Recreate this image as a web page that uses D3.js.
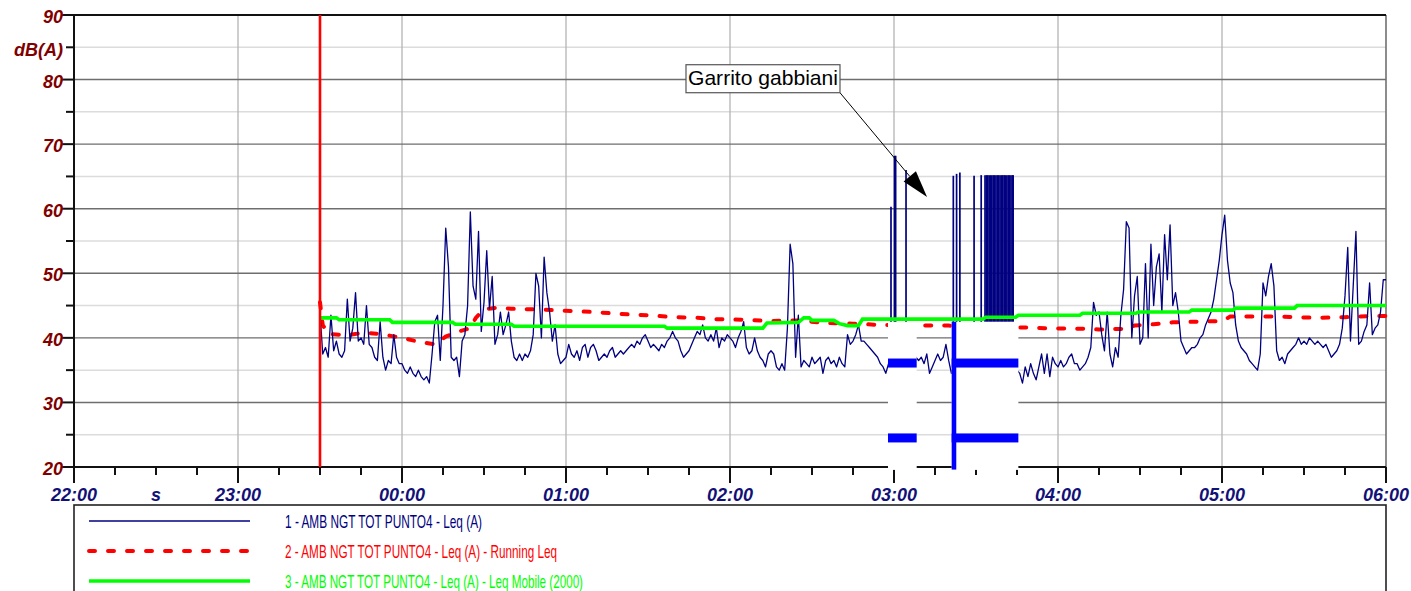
<!DOCTYPE html>
<html><head><meta charset="utf-8">
<script src="https://cdn.jsdelivr.net/npm/d3@7"></script>
<style>html,body{margin:0;padding:0;background:#fff;}svg{display:block;}</style>
</head><body>
<svg id="chart" width="1411" height="591"></svg>
<script>
// ---------- DATA (time = minutes after 22:00) ----------
const startMinute = 90; // 23:30, first sample of series 1, one value per minute
const leqValues = [
 44,37.5,38.5,37,43.5,38,39.5,37.5,37,38,
 46,39.5,41.5,47,39.5,40,39,45,39,38.5,
 37,36.5,42.5,37,35,36.5,36,40.5,37,36,
 36,35,34.5,35.5,34.5,34,35,34,33.5,34,
 33,37.5,42.5,43.5,36.5,45,57,51,37,36.5,
 37,34,39.5,40.5,45,59.5,48,46,56.5,41,
 45.5,53.5,44.5,49.5,39,40.5,44,40.5,42,44,
 39.5,37,36.5,37.5,36.5,37.5,37,38,40.5,50,
 48,40,52.5,47,44,39.5,42,37.5,36,36.5,
 37,39,37.5,37,38,36.5,38.5,39,37,38.5,
 39,38,36.5,37,37.5,37,38,38.5,37,37.5,
 38,37.5,38,38.5,39,38.5,39.5,39,40,40.5,
 39.5,38.5,39,38.5,38,39,38.5,39.5,40,41,
 40,39.5,38,37,37.5,38,39,40,41,40.5,
 42,40,39.5,40.5,39.5,41.5,38.5,40,39.5,40.5,
 40,39.5,38.5,40,41,42.5,38.5,37.5,38,40,
 38,37,36.5,35.5,37.5,38,37.5,35.5,35,36,
 35,41.5,54.5,51.5,37,43.5,35.5,36.5,36,35.5,
 37,36,36.5,37,34.5,36.5,37,36,36.5,35.5,
 37,36,35.5,40.5,39,39.5,40.5,42,39.5,39.5,
 39,38.5,38,37.5,37,36,35.5,34.5,36,37,
 37,37,38,37,37,37,36,37,37,36.5,
 37,36,37.5,34.5,35.5,36.5,37.5,36.5,37,39,
 36.5,34.5,36,37,36,37,36,37,36,37,
 36,37,36,37,36,37,36,37,36,37,
 36,37,36,37,36,35,34.5,33,35.5,34,
 36,34.5,33.5,35.5,37.5,34.5,37.5,34,37,36,
 35.5,36.5,35.5,36,37,37.5,36,36,35,35.5,
 36,37,38.5,45.5,43.5,44,40.5,38,44,37.5,
 35.5,38.5,37,43.5,47.5,58,57,40,46.5,49.5,
 39,40,51.5,40,54.5,45,51,53,44,56,
 49,57.5,45,47,44,39.5,38.5,37.5,38,38.5,
 38.5,39,40,40.5,42,43,44,46,49,52,
 56,59,52,48.5,47,42,39.5,38.5,38,37.5,
 36.5,36,35.5,35,37.5,48.5,46.5,49.5,51.5,48,
 38,36.5,37,36,37.5,38,38.5,39,40,39,
 39.5,39,40,39.5,39,39.5,39,38.5,39,38,
 37,37.5,38,39,41.5,46.5,54,39.5,48,56.5,
 39,39.5,41,42,48.5,40.5,41.5,42,44,49,49
];
// gull cries inside the masked periods
const spikeTimes = [298.9,300.2,300.6,304.4,321.7,322.9,324.1,329.3,331.9,
  333.3,333.8,334.3,334.8,335.3,335.8,336.3,336.8,337.3,337.8,338.3,338.8,
  339.3,339.8,340.3,340.8,341.3,341.8,342.3,342.8,343.3,343.6];
const spikePeaks = [60.3,68.2,68.2,66.0,65.1,65.4,65.6,65.1,65.2,
  65.2,65.2,65.2,65.2,65.2,65.2,65.2,65.2,65.2,65.2,65.2,65.2,
  65.2,65.2,65.2,65.2,65.2,65.2,65.2,65.2,65.2,65.2];
// Running Leq
const runningTimes  = [90,91,93,100,106,112,120,126,132,136,140,145,147,150,155,160,170,180,190,200,210,220,228,235,245,255,265,275,285,295,310,320,345,350,355,370,375,384,388,395,402,410,420,423,440,455,465,470,480];
const runningValues = [45.5,42,40.6,40.4,40.8,40.6,40,39.4,39,40.2,40.9,41.5,43.1,44.4,44.7,44.5,44.4,44.2,44,43.7,43.5,43.2,43.1,42.9,42.8,42.6,42.7,42.3,42.2,42,41.9,41.9,41.6,41.6,41.5,41.4,41.3,41.4,41.9,42.1,42.4,42.5,42.6,43.3,43.3,43.1,43.2,43.3,43.4];
// Leq Mobile (2000)
const mobileTimes  = [90,96,97,115.5,116.5,138.5,139.5,160,161,216,217,252,253.5,265,267,269,270,278,280,283,287,288.5,332.5,333.5,344.5,345.5,368,369,388.5,389.5,408,409,424,425,446.5,447.5,480];
const mobileValues = [43.1,43.1,42.8,42.8,42.4,42.4,42.1,42.1,41.8,41.8,41.5,41.5,42.3,42.4,43.1,43.1,42.7,42.7,42.2,41.9,41.9,42.9,42.9,43.2,43.2,43.5,43.5,43.8,43.8,44,44,44.3,44.3,44.6,44.6,45,45];
// excluded periods and their markers
const maskedPeriods = [[297.8,308.3],[321.1,345.5]];
const maskTop = 42.5;
const markerLevels = [36.1, 24.5];
const markerBarTime = 321.1;
// axes
const hourTicks = [0,60,120,180,240,300,360,420,480];
const xTickLabels = ["22:00","23:00","00:00","01:00","02:00","03:00","04:00","05:00","06:00"];
const quarterTicks = [15,30,45,75,90,105,135,150,165,195,210,225,255,270,285,315,330,345,375,390,405,435,450,465];
const xUnitLabel = "s", xUnitAt = 30;
const yMajorTicks = [20,30,40,50,60,70,80,90];
const yMinorTicks = [25,35,45,55,65,75,85];
const yUnitLabel = "dB(A)", yUnitAt = 85;
const legendLabels = ["1 - AMB NGT TOT PUNTO4 - Leq (A)",
  "2 - AMB NGT TOT PUNTO4 - Leq (A) - Running Leq",
  "3 - AMB NGT TOT PUNTO4 - Leq (A) - Leq Mobile (2000)"];
const annotationText = "Garrito gabbiani";
const annotationTarget = [312.1, 61.8];
const annotationBox = [223.9, 82.3];

// ---------- DRAWING ----------
const FONT = "'Liberation Sans', Arial, sans-serif";
const svg = d3.select("#chart");
const x = d3.scaleLinear().domain([0, 480]).range([74, 1386]);
const y = d3.scaleLinear().domain([20, 90]).range([467, 15]);
const C_LEQ = "#000080", C_RUN = "#ff0000", C_MOB = "#00ff00";

// grid
const grid = svg.append("g");
grid.append("g").selectAll("line").data(yMinorTicks).join("line")
  .attr("x1", x(0)).attr("x2", x(480)).attr("y1", d => y(d)).attr("y2", d => y(d))
  .attr("stroke", "#dcdcdc").attr("stroke-width", 1.5);
grid.append("g").selectAll("line").data(hourTicks.slice(1, -1)).join("line")
  .attr("x1", d => x(d)).attr("x2", d => x(d)).attr("y1", y(90)).attr("y2", y(20))
  .attr("stroke", "#b4b4b4").attr("stroke-width", 1.3);
grid.append("g").selectAll("line").data(yMajorTicks.slice(1, -1)).join("line")
  .attr("x1", x(0)).attr("x2", x(480)).attr("y1", d => y(d)).attr("y2", d => y(d))
  .attr("stroke", "#6e6e6e").attr("stroke-width", 1.4);
svg.append("line").attr("x1", x(480)).attr("x2", x(480)).attr("y1", y(90)).attr("y2", y(20))
  .attr("stroke", "#707070").attr("stroke-width", 1.6);

// running Leq (red dashed)
const runData = runningTimes.map((t, i) => [t, runningValues[i]]);
svg.append("path").datum(runData)
  .attr("d", d3.line().x(d => x(d[0])).y(d => y(d[1])))
  .attr("fill", "none").attr("stroke", C_RUN).attr("stroke-width", 4)
  .attr("stroke-dasharray", "6,13").attr("stroke-linecap", "round");

// series 1
svg.append("path").datum(leqValues)
  .attr("d", d3.line().x((d, i) => x(startMinute + i)).y(d => y(d)))
  .attr("fill", "none").attr("stroke", C_LEQ).attr("stroke-width", 1.3).attr("stroke-linejoin", "round");
svg.append("g").selectAll("line").data(spikeTimes).join("line")
  .attr("x1", d => x(d)).attr("x2", d => x(d))
  .attr("y1", y(38)).attr("y2", (d, i) => y(spikePeaks[i]))
  .attr("stroke", C_LEQ).attr("stroke-width", 1.7);

// axes lines & ticks
const axes = svg.append("g").attr("stroke", "#111").attr("stroke-width", 2);
axes.append("line").attr("x1", x(0) - 12).attr("x2", x(480)).attr("y1", y(90)).attr("y2", y(90));
axes.append("line").attr("x1", x(0)).attr("x2", x(480)).attr("y1", y(20)).attr("y2", y(20));
axes.append("line").attr("x1", x(0)).attr("x2", x(0)).attr("y1", y(90)).attr("y2", y(20));
axes.append("g").selectAll("line").data(yMajorTicks).join("line")
  .attr("x1", x(0) - 12).attr("x2", x(0)).attr("y1", d => y(d)).attr("y2", d => y(d));
axes.append("g").selectAll("line").data(yMinorTicks).join("line")
  .attr("x1", x(0) - 8).attr("x2", x(0)).attr("y1", d => y(d)).attr("y2", d => y(d));
axes.append("g").selectAll("line").data(hourTicks).join("line")
  .attr("x1", d => x(d)).attr("x2", d => x(d)).attr("y1", y(20)).attr("y2", y(20) + 16);
axes.append("g").selectAll("line").data(quarterTicks).join("line")
  .attr("x1", d => x(d)).attr("x2", d => x(d)).attr("y1", y(20)).attr("y2", y(20) + 8);

// masks for excluded periods
svg.append("g").selectAll("rect").data(maskedPeriods).join("rect")
  .attr("x", d => x(d[0])).attr("width", d => x(d[1]) - x(d[0]))
  .attr("y", y(maskTop)).attr("height", y(19.55) - y(maskTop)).attr("fill", "#fff");

// Leq mobile (green)
const mobData = mobileTimes.map((t, i) => [t, mobileValues[i]]);
svg.append("path").datum(mobData)
  .attr("d", d3.line().x(d => x(d[0])).y(d => y(d[1])))
  .attr("fill", "none").attr("stroke", C_MOB).attr("stroke-width", 3.6);

// blue markers
const marks = svg.append("g").attr("fill", "#0000ff");
maskedPeriods.forEach(p => {
  markerLevels.forEach(l => {
    marks.append("rect").attr("x", x(p[0])).attr("width", x(p[1]) - x(p[0]))
      .attr("y", y(l) - 4.5).attr("height", 9);
  });
});
marks.append("rect").attr("x", x(markerBarTime)).attr("width", 4.6)
  .attr("y", y(maskTop)).attr("height", y(19.6) - y(maskTop));

// start marker (red vertical)
svg.append("line").attr("x1", x(startMinute)).attr("x2", x(startMinute))
  .attr("y1", y(90)).attr("y2", y(20)).attr("stroke", "#ff0000").attr("stroke-width", 2.6);

// y labels
const ylab = svg.append("g").attr("font-family", FONT).attr("font-weight", "bold")
  .attr("font-style", "italic").attr("font-size", 18).attr("fill", "#800000").attr("text-anchor", "end");
ylab.selectAll("text").data(yMajorTicks).join("text")
  .attr("x", x(0) - 11).attr("y", d => y(d) + 8).text(d => d);
ylab.append("text").attr("x", x(0) - 11).attr("y", y(yUnitAt) + 9).text(yUnitLabel);

// x labels
const xlab = svg.append("g").attr("font-family", FONT).attr("font-weight", "bold")
  .attr("font-style", "italic").attr("font-size", 18).attr("fill", "#111177").attr("text-anchor", "middle");
xlab.selectAll("text").data(hourTicks).join("text")
  .attr("x", d => x(d)).attr("y", y(20) + 34).text((d, i) => xTickLabels[i]);
xlab.append("text").attr("x", x(xUnitAt)).attr("y", y(20) + 34).text(xUnitLabel);

// legend
const leg = svg.append("g");
leg.append("rect").attr("x", x(0)).attr("y", 505).attr("width", x(480) - x(0)).attr("height", 120)
  .attr("fill", "none").attr("stroke", "#222").attr("stroke-width", 1.6);
const legStyles = [
  {c: C_LEQ, w: 1.3, dash: null, cap: "butt", tl: 197},
  {c: C_RUN, w: 4, dash: "6,13", cap: "round", tl: 272},
  {c: C_MOB, w: 3.6, dash: null, cap: "butt", tl: 298}];
legendLabels.forEach((lab, i) => {
  const cy = 521 + i * 30;
  const s = legStyles[i];
  leg.append("line").attr("x1", 89).attr("x2", 250).attr("y1", cy).attr("y2", cy)
    .attr("stroke", s.c).attr("stroke-width", s.w).attr("stroke-linecap", s.cap)
    .attr("stroke-dasharray", s.dash);
  leg.append("text").attr("x", 285).attr("y", cy + 7).attr("font-family", FONT)
    .attr("font-size", 19).attr("fill", s.c).attr("textLength", s.tl)
    .attr("lengthAdjust", "spacingAndGlyphs").text(lab);
});

// annotation
const bx = x(annotationBox[0]), by = y(annotationBox[1]);
const bw = 154, bh = 28;
const tx = x(annotationTarget[0]), ty = y(annotationTarget[1]);
const sx = bx + bw, sy = by + bh;
const dx = tx - sx, dy = ty - sy, len = Math.hypot(dx, dy), ux = dx / len, uy = dy / len;
const hl = 27, hw = 8;
const baseX = tx - ux * hl, baseY = ty - uy * hl;
svg.append("line").attr("x1", sx).attr("y1", sy).attr("x2", baseX).attr("y2", baseY)
  .attr("stroke", "#000").attr("stroke-width", 1);
svg.append("path").attr("d", `M${tx},${ty}L${baseX - uy * hw},${baseY + ux * hw}L${baseX + uy * hw},${baseY - ux * hw}Z`)
  .attr("fill", "#000");
svg.append("rect").attr("x", bx).attr("y", by).attr("width", bw).attr("height", bh)
  .attr("fill", "#fff").attr("stroke", "#555").attr("stroke-width", 1.2);
svg.append("text").attr("x", bx + 2).attr("y", by + 20.5).attr("font-family", FONT)
  .attr("font-size", 21).attr("fill", "#000").attr("textLength", 150)
  .attr("lengthAdjust", "spacingAndGlyphs").text(annotationText);
</script>
</body></html>
